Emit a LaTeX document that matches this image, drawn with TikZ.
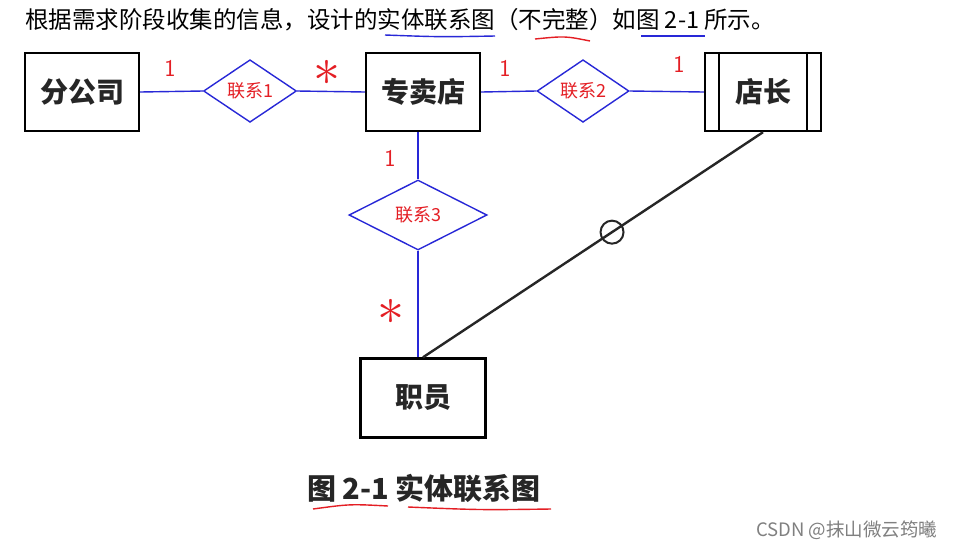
\RequirePackage{fix-cm}
\documentclass[tikz,border=0pt]{standalone}
\usepackage{fontspec}
\newfontfamily\cjk{Noto Sans CJK SC}
\usetikzlibrary{shapes.geometric}

\definecolor{penblue}{RGB}{40,40,215}
\definecolor{penred}{RGB}{228,30,36}

\tikzset{
  entity/.style={draw, line width=2.4pt, minimum width=114pt, minimum height=78pt,
    font=\cjk\bfseries\fontsize{28}{28}\selectfont, text=black!85},
  rel/.style={diamond, draw=penblue, line width=1.4pt, inner sep=0pt,
    font=\cjk\fontsize{18}{18}\selectfont, text=penred},
  link/.style={penblue, line width=1.4pt},
  redlabel/.style={text=penred, inner sep=0pt, font=\sffamily\fontsize{24}{24}\selectfont},
  starlabel/.style={redlabel, font=\fontsize{54}{54}\selectfont},
}

\begin{document}
\begin{tikzpicture}[x=1pt, y=-1pt]
    \useasboundingbox[fill=white] (0,0) rectangle (956,550);

    % Heading line
    \node[anchor=west, font=\cjk\fontsize{23.5}{23.5}\selectfont, inner sep=0pt] (head) at (25,20)
      {根据需求阶段收集的信息，设计的实体联系图（不完整）如图 2-1 所示。};
    \draw[penblue, line width=1.4pt] (385,35) .. controls (440,37) .. (495,36);
    \draw[penred, line width=1.4pt] (535,39) .. controls (565,36) .. (590,41);
    \draw[penblue, line width=1.4pt] (641,36) -- (705,36);

    % Draw the entities
    \node[entity] (fgs) at (82,92) {分公司};
    \node[entity] (zmd) at (423,92) {专卖店};
    \node[entity, minimum width=116pt] (dz) at (763,92) {店长};
    \draw[line width=2pt] ([xshift=15pt]dz.north west) -- ([xshift=15pt]dz.south west);
    \draw[line width=2pt] ([xshift=-15pt]dz.north east) -- ([xshift=-15pt]dz.south east);
    \node[entity, minimum width=125pt, minimum height=79pt] (zy) at (423,398) {职员};

    % Draw the relationships
    \node[rel, minimum width=93pt, minimum height=62pt] (lx1) at (250,91) {联系1};
    \node[rel, minimum width=92pt, minimum height=46pt] (lx2) at (583,91) {联系2};
    \node[rel, minimum width=138pt, minimum height=70pt] (lx3) at (418,215) {联系3};

    % Connectors
    \draw[link] (fgs.east) -- (lx1.west);
    \draw[link] (lx1.east) -- (zmd.west);
    \draw[link] (zmd.east) -- (lx2.west);
    \draw[link] (lx2.east) -- (dz.west);
    \draw[link] (lx3.north |- zmd.south) -- (lx3.north);
    \draw[link] (lx3.south) -- (lx3.south |- zy.north);
    \draw[line width=2.4pt, black!85] (zy.north) -- node[pos=0.556, circle, draw, line width=2pt,
      minimum size=23pt, inner sep=0pt] (opt) {} (dz.south);

    % Cardinalities
    \node[redlabel] (c1) at (170,68) {1};
    \node[starlabel] (c2) at (327,73) {$\ast$};
    \node[redlabel] (c3) at (505,68) {1};
    \node[redlabel] (c4) at (679,64) {1};
    \node[redlabel] (c5) at (390,158) {1};
    \node[starlabel] (c6) at (391,312) {$\ast$};

    % Caption
    \node[font=\cjk\bfseries\fontsize{29}{29}\selectfont, text=black!85] (cap) at (424,488)
      {图 2-1 实体联系图};
    \draw[penred, line width=1.4pt] (313,509) .. controls (350,504) .. (388,506);
    \draw[penred, line width=1.4pt] (408,507) .. controls (480,510) .. (551,509);

    % Watermark
    \node[anchor=east, font=\cjk\fontsize{18.5}{18.5}\selectfont, text=black!50] (wm) at (941,530)
      {CSDN @抹山微云筠曦};
\end{tikzpicture}
\end{document}
